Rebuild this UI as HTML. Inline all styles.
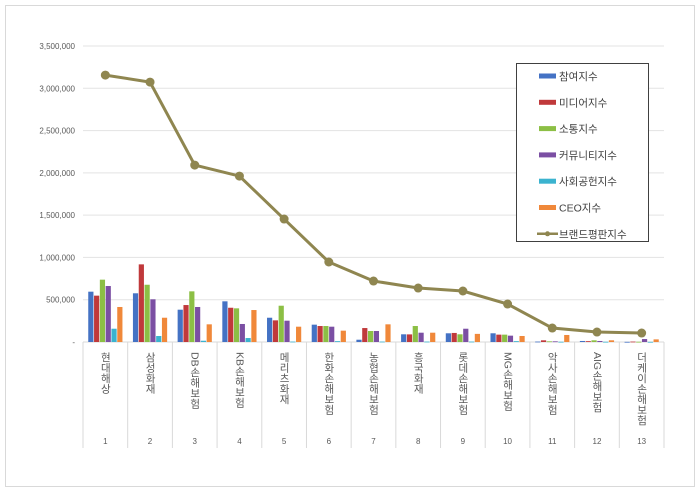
<!DOCTYPE html>
<html><head><meta charset="utf-8"><style>
body{margin:0;background:#fff;font-family:"Liberation Sans","Noto Sans CJK KR",sans-serif}
</style></head><body>
<svg id="c" width="700" height="495" xmlns="http://www.w3.org/2000/svg" style="font-family:'Liberation Sans','Noto Sans CJK KR',sans-serif">
<rect x="5.5" y="5.5" width="689" height="481" fill="#fff" stroke="#d9d9d9"/>
</svg>
<script>
const categories=["현대해상","삼성화재","DB손해보험","KB손해보험","메리츠화재","한화손해보험","농협손해보험","흥국화재","롯데손해보험","MG손해보험","악사손해보험","AIG손해보험","더케이손해보험"];
const seriesNames=["참여지수","미디어지수","소통지수","커뮤니티지수","사회공헌지수","CEO지수"];
const participation=[595000,576000,382000,481000,287000,205000,27000,91000,103000,103000,5000,12000,2000];
const media=[548000,918000,437000,405000,256000,189000,165000,90000,107000,87000,20000,10000,5000];
const communication=[737000,677000,599000,398000,429000,189000,130000,189000,91000,87000,8000,20000,3000];
const community=[662000,505000,414000,213000,252000,181000,130000,110000,157000,75000,8000,12000,35000];
const social=[157000,71000,15000,47000,5000,10000,5000,5000,5000,10000,3000,3000,2000];
const ceo=[414000,287000,209000,378000,181000,134000,209000,110000,96000,71000,83000,20000,31000];
const brandIndex=[3156000,3073000,2092000,1962000,1454000,946000,721000,638000,603000,449000,165000,118000,106000];
const yTicks=[0,500000,1000000,1500000,2000000,2500000,3000000,3500000];
const yTickLabels=["-","500,000","1,000,000","1,500,000","2,000,000","2,500,000","3,000,000","3,500,000"];
const colors=["#4472c4","#c0393b","#8cbf45","#7b4fa3","#3bb3cf","#f0883a"];
const NS="http://www.w3.org/2000/svg";
const svg=document.getElementById('c');
const X0=83,X1=664,Y0=342,YT=46,YMAX=3500000;
const bw=(X1-X0)/categories.length;
function y(v){return Y0-(v/YMAX)*(Y0-YT);}
function xc(i){return X0+bw*(i+0.5);}
function mk(t,a,p){const e=document.createElementNS(NS,t);for(const k in a)e.setAttribute(k,a[k]);(p||svg).appendChild(e);return e;}
yTicks.forEach((t,i)=>{
  if(i>0){const g=mk('line',{x1:X0,x2:X1,y1:y(t),y2:y(t),stroke:'#e3e3e3'});
  
  }
  const l=mk('text',{x:75,y:y(t)+3,'text-anchor':'end','font-size':'8',fill:'#595959'});
  l.textContent=yTickLabels[i];
  
  
});
const ax=mk('line',{x1:X0,x2:X1,y1:Y0,y2:Y0,stroke:'#d9d9d9'});


for(let i=0;i<=categories.length;i++){
  const s=mk('line',{x1:X0+bw*i,x2:X0+bw*i,y1:Y0,y2:448,stroke:'#d9d9d9'});
  
  
}
const series=[participation,media,communication,community,social,ceo];
const barW=5.2;
categories.forEach((c,i)=>{
  series.forEach((s,j)=>{
    const x=xc(i)-3*barW-1.5+j*(barW+0.6);
    const b=mk('rect',{x:x,y:y(s[i]),width:barW,height:Math.max(0.8,Y0-y(s[i])),fill:colors[j]});
    
    
  });
  const t=mk('text',{x:xc(i),y:352,'font-size':'10.5',fill:'#595959',style:'writing-mode:vertical-rl'});
  t.textContent=c;
  
  
  const n=mk('text',{x:xc(i),y:444,'text-anchor':'middle','font-size':'8',fill:'#595959'});
  n.textContent=String(i+1);
  
  
});
const pts=brandIndex.map((v,i)=>xc(i)+','+y(v)).join(' ');
const pl=mk('polyline',{points:pts,fill:'none',stroke:'#8f8650','stroke-width':'3'});


brandIndex.forEach((v,i)=>{
  const p=mk('circle',{cx:xc(i),cy:y(v),r:4.5,fill:'#8f8650'});
  
  
});
const lg=mk('g',{});


mk('rect',{x:516.5,y:63.5,width:132,height:178,fill:'#fff',stroke:'#404040'},lg);
const names=seriesNames.concat(["브랜드평판지수"]);
names.forEach((nm,k)=>{
  const yy=76+k*26.3;
  const e=mk('g',{},lg);
  
  
  if(k<6) mk('rect',{x:539,y:yy-2.5,width:17,height:5,fill:colors[k]},e);
  else {mk('line',{x1:537,x2:558,y1:yy,y2:yy,stroke:'#8f8650','stroke-width':2.5},e);mk('circle',{cx:547.5,cy:yy,r:2.5,fill:'#8f8650'},e);}
  const t=mk('text',{x:559,y:yy+4,'font-size':'10.5',fill:'#404040'},e);
  t.textContent=nm;
});
</script>
</body></html>
